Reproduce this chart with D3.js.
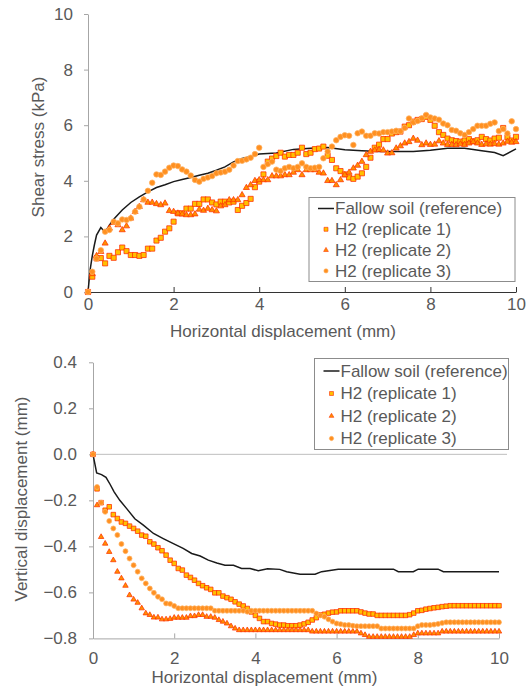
<!DOCTYPE html>
<meta charset="utf-8">
<head>
  <script src="https://d3js.org/d3.v7.min.js"></script>
</head>
<style>
body {
  margin: 0;
  background: #fff;
  font-family: "Liberation Sans", Arial, sans-serif;
}
.axis text, .axis-title, .legend-text {
  fill: #595959;
  font-size: 17px;
  font-family: "Liberation Sans", Arial, sans-serif;
}
</style>
<body>
<svg width="532" height="686" id="container"></svg>
<script>

// horizontal displacement (mm), one reading every 0.1 mm
var dispX = [0,0.1,0.2,0.3,0.4,0.5,0.6,0.7,0.8,0.9,1,1.1,1.2,1.3,1.4,1.5,1.6,1.7,1.8,1.9,
  2,2.1,2.2,2.3,2.4,2.5,2.6,2.7,2.8,2.9,3,3.1,3.2,3.3,3.4,3.5,3.6,3.7,3.8,3.9,
  4,4.1,4.2,4.3,4.4,4.5,4.6,4.7,4.8,4.9,5,5.1,5.2,5.3,5.4,5.5,5.6,5.7,5.8,5.9,
  6,6.1,6.2,6.3,6.4,6.5,6.6,6.7,6.8,6.9,7,7.1,7.2,7.3,7.4,7.5,7.6,7.7,7.8,7.9,
  8,8.1,8.2,8.3,8.4,8.5,8.6,8.7,8.8,8.9,9,9.1,9.2,9.3,9.4,9.5,9.6,9.7,9.8,9.9,10];

// shear stress, fallow soil reference (line)
var refShearX = [0,0.05,0.1,0.15,0.2,0.3,0.4,0.5,0.6,0.8,1.0,1.2,1.4,1.6,1.8,2.0,2.2,2.4,2.6,2.8,3.0,
  3.2,3.4,3.6,3.8,4.0,4.4,4.8,5.2,5.6,6.0,6.4,6.8,7.2,7.6,8.0,8.4,8.8,9.2,9.5,9.7,10];
var refShearY = [0,0.8,1.3,1.7,2.05,2.32,2.15,2.4,2.62,2.95,3.22,3.42,3.6,3.76,3.86,3.97,4.05,4.12,4.2,4.27,4.38,
  4.5,4.68,4.8,4.87,4.96,5.0,5.13,5.17,5.2,5.12,5.08,5.05,5.05,5.05,5.1,5.17,5.17,5.08,5.02,4.9,5.15];

// shear stress (kPa), H2 replicates
var shearRep1 = [0,0.55,1.21,1.22,1.03,1.3,1.23,1.43,1.6,1.47,1.33,1.33,1.3,1.33,1.56,1.56,1.85,1.95,2.17,2.29,
  2.53,2.83,2.83,3.0,3.0,3.17,3.17,3.33,3.33,3.22,3.15,3.25,3.25,3.22,3.25,2.95,3.1,3.2,3.35,3.77,
  3.97,4.23,4.69,4.8,4.89,5.01,4.87,4.93,4.93,5.01,5.19,4.96,5.01,5.14,5.16,5.23,4.9,4.75,4.45,4.35,
  4.23,4.12,4.07,4.15,4.27,4.5,4.83,5.19,5.3,5.5,5.5,5.7,5.75,5.77,5.95,6.0,6.13,6.19,6.22,6.3,
  6.19,5.98,5.75,5.65,5.52,5.46,5.43,5.41,5.45,5.5,5.42,5.46,5.58,5.5,5.45,5.52,5.55,5.9,5.56,5.45,5.58];
var shearRep2 = [0,0.65,1.3,1.45,1.75,2.29,2.49,2.41,2.23,2.37,2.65,2.89,3.07,3.31,3.22,3.22,3.17,3.13,3.19,2.92,
  2.89,2.83,2.8,2.77,2.77,2.8,2.97,2.93,3.0,2.95,2.91,3.09,3.13,3.31,3.31,3.31,3.49,3.75,3.85,4.0,
  4.03,4.03,4.03,4.17,4.17,4.17,4.21,4.21,4.3,4.39,4.21,4.39,4.39,4.39,4.3,4.27,4.0,4.0,3.85,4.03,
  4.21,4.3,4.45,4.55,4.69,4.93,5.05,5.1,5.12,5.1,4.99,5.0,5.17,5.25,5.35,5.4,5.52,5.45,5.29,5.35,
  5.3,5.31,5.43,5.35,5.3,5.3,5.29,5.32,5.3,5.35,5.4,5.35,5.3,5.32,5.31,5.33,5.31,5.35,5.41,5.38,5.4];
var shearRep3 = [0,0.73,1.2,1.5,2.17,2.23,2.53,2.47,2.61,2.59,2.65,2.89,3.07,3.33,3.64,3.93,4.23,4.21,4.33,4.47,
  4.55,4.53,4.41,4.33,4.19,4.03,3.97,4.07,4.12,4.17,4.27,4.3,4.33,4.4,4.55,4.71,4.72,4.77,4.83,4.96,
  5.19,4.5,4.6,4.69,4.4,4.35,4.45,4.5,4.45,4.5,4.63,4.5,4.45,4.47,4.5,4.81,5.05,5.23,5.46,5.58,
  5.64,5.62,5.29,5.71,5.77,5.62,5.62,5.71,5.7,5.75,5.75,5.77,5.8,5.78,5.9,6.24,6.1,6.15,6.25,6.37,
  6.28,6.24,6.2,6.06,6.0,5.83,5.8,5.71,5.65,5.75,5.86,5.98,5.98,5.98,6.05,6.1,5.79,5.86,5.7,6.14,5.86];

// vertical displacement, fallow soil reference (line)
var refVertX = [0,0.09,0.21,0.32,0.42,0.52,0.66,0.83,1.03,1.24,1.49,1.73,1.98,2.22,2.43,2.64,2.84,3.05,3.25,3.46,
  3.66,3.87,4.07,4.3,4.6,4.77,5.1,5.47,5.63,6.04,7.4,7.52,7.89,8.01,8.5,8.63,10];
var refVertY = [0,-0.081,-0.088,-0.1,-0.13,-0.163,-0.2,-0.236,-0.28,-0.308,-0.344,-0.366,-0.388,-0.409,-0.431,-0.442,-0.46,-0.472,-0.482,-0.482,
  -0.496,-0.496,-0.506,-0.497,-0.5,-0.51,-0.521,-0.521,-0.51,-0.499,-0.499,-0.51,-0.51,-0.499,-0.499,-0.51,-0.51];

// vertical displacement (mm), H2 replicates
var vertRep1 = [0,-0.15,-0.21,-0.243,-0.228,-0.262,-0.279,-0.294,-0.3,-0.312,-0.322,-0.334,-0.351,-0.356,-0.38,-0.39,-0.406,-0.419,-0.438,-0.46,
  -0.474,-0.496,-0.503,-0.525,-0.535,-0.547,-0.561,-0.571,-0.58,-0.587,-0.602,-0.602,-0.616,-0.623,-0.63,-0.641,-0.651,-0.659,-0.67,-0.685,
  -0.7,-0.713,-0.727,-0.727,-0.735,-0.738,-0.742,-0.742,-0.745,-0.745,-0.745,-0.742,-0.737,-0.73,-0.72,-0.71,-0.698,-0.695,-0.69,-0.686,
  -0.685,-0.68,-0.68,-0.68,-0.68,-0.68,-0.685,-0.69,-0.694,-0.694,-0.7,-0.7,-0.7,-0.7,-0.7,-0.7,-0.7,-0.7,-0.697,-0.69,
  -0.68,-0.678,-0.673,-0.67,-0.667,-0.665,-0.662,-0.66,-0.658,-0.658,-0.658,-0.658,-0.658,-0.658,-0.658,-0.658,-0.658,-0.658,-0.658,-0.658,-0.658];
var vertRep2 = [0,-0.221,-0.359,-0.388,-0.424,-0.46,-0.51,-0.539,-0.571,-0.612,-0.631,-0.645,-0.669,-0.691,-0.698,-0.709,-0.709,-0.717,-0.717,-0.715,
  -0.71,-0.71,-0.71,-0.71,-0.703,-0.703,-0.698,-0.698,-0.706,-0.706,-0.71,-0.72,-0.727,-0.735,-0.747,-0.757,-0.764,-0.764,-0.764,-0.764,
  -0.764,-0.764,-0.764,-0.764,-0.764,-0.764,-0.764,-0.764,-0.764,-0.764,-0.764,-0.764,-0.764,-0.764,-0.77,-0.77,-0.77,-0.77,-0.77,-0.77,
  -0.77,-0.77,-0.77,-0.77,-0.77,-0.77,-0.778,-0.785,-0.793,-0.793,-0.793,-0.793,-0.793,-0.793,-0.793,-0.793,-0.793,-0.793,-0.793,-0.785,
  -0.778,-0.778,-0.778,-0.778,-0.778,-0.778,-0.77,-0.77,-0.77,-0.77,-0.77,-0.77,-0.77,-0.77,-0.77,-0.77,-0.77,-0.77,-0.77,-0.77,-0.77];
var vertRep3 = [0,-0.142,-0.21,-0.25,-0.29,-0.322,-0.351,-0.39,-0.421,-0.453,-0.482,-0.51,-0.539,-0.561,-0.583,-0.602,-0.619,-0.63,-0.648,-0.65,
  -0.659,-0.669,-0.669,-0.669,-0.669,-0.669,-0.669,-0.669,-0.669,-0.669,-0.68,-0.68,-0.68,-0.68,-0.68,-0.68,-0.68,-0.68,-0.684,-0.68,
  -0.68,-0.68,-0.68,-0.68,-0.68,-0.68,-0.68,-0.68,-0.68,-0.68,-0.68,-0.68,-0.68,-0.68,-0.68,-0.692,-0.7,-0.706,-0.717,-0.727,
  -0.735,-0.738,-0.742,-0.742,-0.745,-0.747,-0.747,-0.747,-0.747,-0.747,-0.747,-0.757,-0.757,-0.757,-0.757,-0.757,-0.757,-0.757,-0.757,-0.757,
  -0.747,-0.742,-0.742,-0.742,-0.74,-0.737,-0.733,-0.73,-0.73,-0.73,-0.73,-0.73,-0.73,-0.73,-0.73,-0.73,-0.73,-0.73,-0.73,-0.73,-0.73];

var legendLabels = ['Fallow soil (reference)', 'H2 (replicate 1)', 'H2 (replicate 2)', 'H2 (replicate 3)'];
var shearTicks = [0, 2, 4, 6, 8, 10];
var vertTicks = [-0.8, -0.6, -0.4, -0.2, 0.0, 0.2, 0.4];
var dispTicks = [0, 2, 4, 6, 8, 10];

var markerStyles = [
  {type: d3.symbolSquare, size: 26, fill: '#FFC000', stroke: '#FF2A00'},
  {type: d3.symbolTriangle, size: 16, fill: '#FF9000', stroke: '#FF3300'},
  {type: d3.symbolCircle, size: 24, fill: '#FF9020', stroke: '#FFB060'}
];

var svg = d3.select('#container');

function zip(xs, ys) {
  return xs.map(function(x, i) { return [x, ys[i]]; });
}

function drawPanel(opts) {
  var x = d3.scaleLinear().domain([0, 10]).range(opts.xRange),
      y = d3.scaleLinear().domain(opts.yDomain).range(opts.yRange);
  var g = svg.append('g');

  if (opts.zeroLine) {
    g.append('line')
     .attr('x1', x(0)).attr('x2', opts.zeroLineEnd)
     .attr('y1', y(0)).attr('y2', y(0))
     .attr('stroke', '#BFBFBF').attr('stroke-width', 1);
  }

  // y axis
  var yAxis = g.append('g')
     .attr('class', 'axis')
     .attr('transform', 'translate(' + x(0) + ',0)')
     .call(d3.axisLeft(y).tickValues(opts.yTicks).tickFormat(opts.yFormat)
           .tickSizeInner(4).tickSizeOuter(0).tickPadding(opts.yPad));
  yAxis.select('.domain').attr('stroke', '#A6A6A6');
  yAxis.selectAll('.tick line').attr('stroke', '#A6A6A6');

  // x axis along the bottom
  var xAxis = g.append('g')
     .attr('class', 'axis')
     .attr('transform', 'translate(0,' + opts.yRange[0] + ')')
     .call(d3.axisBottom(x).tickValues(dispTicks)
           .tickSizeInner(-5).tickSizeOuter(0).tickPadding(opts.xPad));
  xAxis.select('.domain').attr('stroke', opts.xAxisColor);
  xAxis.selectAll('.tick line').attr('stroke', opts.xAxisColor);
  g.selectAll('.axis text').style('font-size', '17px').attr('fill', '#595959');

  // reference line
  var line = d3.line().x(function(d) { return x(d[0]); }).y(function(d) { return y(d[1]); });
  g.append('path')
   .datum(zip(opts.refX, opts.refY))
   .attr('d', line)
   .attr('fill', 'none')
   .attr('stroke', '#1a1a1a')
   .attr('stroke-width', 1.5);

  // replicate markers
  opts.reps.forEach(function(vals, k) {
    var st = markerStyles[k];
    g.append('g').selectAll('path')
     .data(zip(dispX, vals))
     .enter().append('path')
     .attr('transform', function(d) { return 'translate(' + x(d[0]) + ',' + y(d[1]) + ')'; })
     .attr('d', d3.symbol().type(st.type).size(st.size * opts.markerScale))
     .attr('fill', st.fill)
     .attr('stroke', st.stroke)
     .attr('stroke-opacity', 0.75)
     .attr('stroke-width', 1);
  });

  // axis titles
  g.append('text')
   .attr('class', 'axis-title')
   .attr('x', opts.xTitlePos[0]).attr('y', opts.xTitlePos[1])
   .attr('text-anchor', 'middle')
   .text('Horizontal displacement (mm)');
  g.append('text')
   .attr('class', 'axis-title')
   .attr('transform', 'translate(' + opts.yTitlePos[0] + ',' + opts.yTitlePos[1] + ') rotate(-90)')
   .attr('text-anchor', 'middle')
   .attr('dy', '0.35em')
   .text(opts.yTitle);

  // legend
  var lb = opts.legendBox;
  var lg = g.append('g');
  lg.append('rect')
    .attr('x', lb.x).attr('y', lb.y)
    .attr('width', lb.w).attr('height', lb.h)
    .attr('fill', '#fff')
    .attr('stroke', '#8C8C8C').attr('stroke-width', 1);
  legendLabels.forEach(function(lbl, i) {
    var cy = lb.y + lb.first + i * lb.step;
    if (i == 0) {
      lg.append('line')
        .attr('x1', lb.x + 9).attr('x2', lb.x + 25)
        .attr('y1', cy).attr('y2', cy)
        .attr('stroke', '#1a1a1a').attr('stroke-width', 1.5);
    } else {
      var st = markerStyles[i - 1];
      lg.append('path')
        .attr('transform', 'translate(' + (lb.x + 17) + ',' + cy + ')')
        .attr('d', d3.symbol().type(st.type).size(st.size * 0.6))
        .attr('fill', st.fill)
        .attr('stroke', st.stroke)
        .attr('stroke-opacity', 0.6);
    }
    lg.append('text')
      .attr('class', 'legend-text')
      .attr('x', lb.x + 26).attr('y', cy)
      .attr('dy', '0.35em')
      .text(lbl);
  });
}

drawPanel({
  xRange: [88, 516], yDomain: [0, 10], yRange: [292, 14],
  yTicks: shearTicks, yFormat: d3.format('d'), yPad: 11, xPad: 6,
  xAxisColor: '#333333',
  refX: refShearX, refY: refShearY,
  reps: [shearRep1, shearRep2, shearRep3], markerScale: 1,
  xTitlePos: [283, 337], yTitlePos: [38, 147], yTitle: 'Shear stress (kPa)',
  legendBox: {x: 309, y: 197.5, w: 206, h: 84, first: 11, step: 20.8}
});

drawPanel({
  xRange: [93, 499], yDomain: [-0.8, 0.4], yRange: [638.4, 362.3],
  yTicks: vertTicks, yFormat: d3.format('.1f'), yPad: 12, xPad: 14,
  xAxisColor: '#A6A6A6', zeroLine: true, zeroLineEnd: 507,
  refX: refVertX, refY: refVertY,
  reps: [vertRep1, vertRep2, vertRep3], markerScale: 0.8,
  xTitlePos: [264.5, 683], yTitlePos: [21, 499], yTitle: 'Vertical displacement (mm)',
  legendBox: {x: 314.5, y: 358.5, w: 194, h: 91, first: 12.5, step: 22.5}
});

</script>
</body>
